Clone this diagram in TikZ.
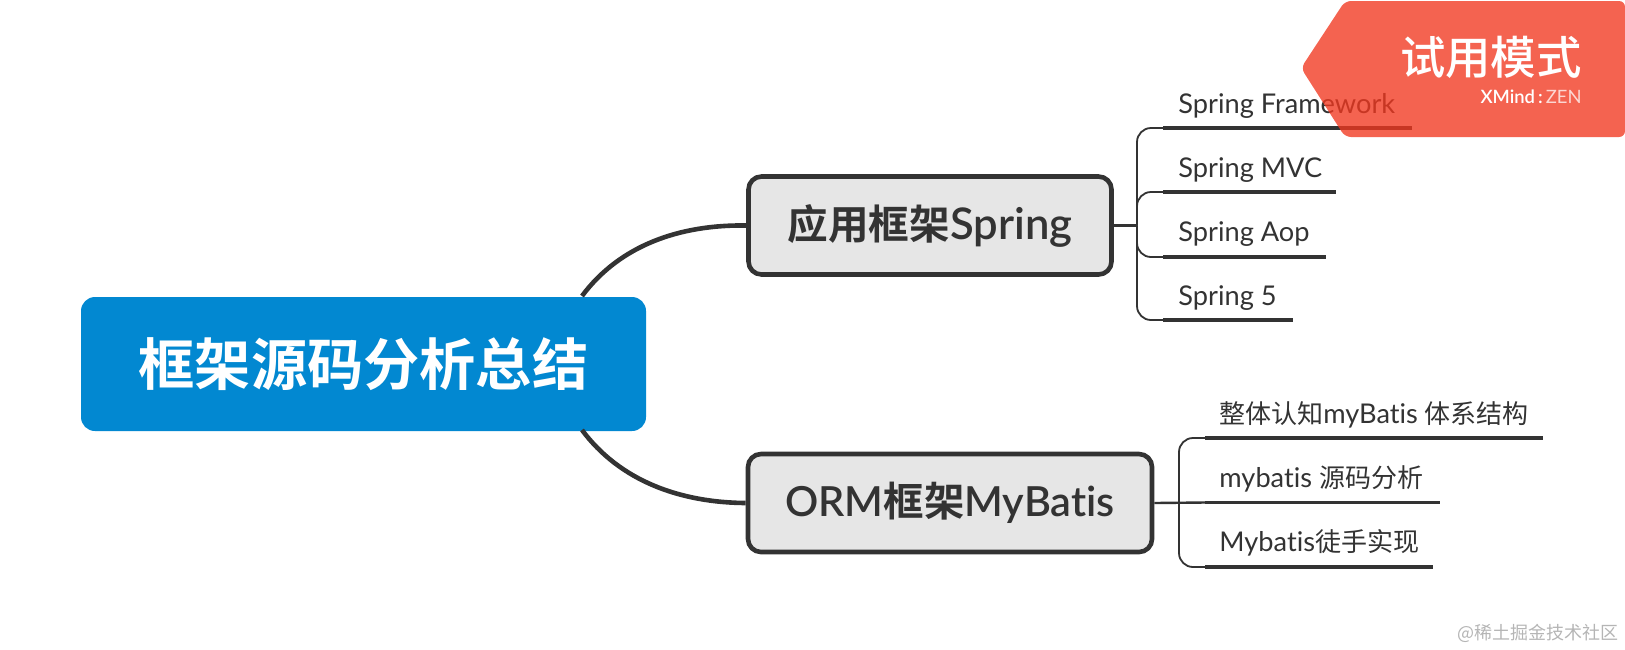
\documentclass[tikz,border=0pt]{standalone}
\usepackage{fontspec}
\setmainfont[Ligatures=NoCommon]{Lato}
\newfontfamily\cjk{Noto Sans CJK SC}
\newfontfamily\cjkm{Noto Sans CJK SC Medium}
\newfontfamily\cjkb{Noto Sans CJK SC Bold}
\newfontfamily\latob[Ligatures=NoCommon]{Lato Semibold}
\definecolor{ink}{HTML}{333333}
\definecolor{rootblue}{HTML}{0288D1}
\definecolor{boxgray}{HTML}{E6E6E6}
\definecolor{banner}{RGB}{241,55,31}
\definecolor{mark}{HTML}{B5B5B5}
\newcommand{\cjkleaf}[1]{{\cjk\fontsize{13}{16}\selectfont #1}}
\tikzset{
  x=0.5pt,y=-0.5pt,
  rootbox/.style={fill=rootblue,rounded corners=7pt,text=white,minimum width=282.5pt,minimum height=67pt,inner sep=0pt},
  topicbox/.style={draw=ink,line width=2.3pt,fill=boxgray,rounded corners=6.5pt,text=ink,minimum height=49pt,inner sep=0pt},
  leaf/.style={anchor=base west,text=ink,inner sep=0pt,font=\fontsize{13.6}{16}\selectfont},
  rootedge/.style={draw=ink,line width=2.3pt},
  bracket/.style={draw=ink,line width=0.9pt,rounded corners=7pt},
  stem/.style={draw=ink,line width=1.2pt},
  underl/.style={draw=ink,line width=1.8pt}
}
\begin{document}
\begin{tikzpicture}
\useasboundingbox (0,0) rectangle (1625,649);
% root and topics
\node[rootbox] (root) at (363.5,364) {\cjkb\fontsize{28.1}{32}\selectfont 框架源码分析总结};
\node[topicbox,minimum width=181.5pt] (spring) at (930,225.5) {{\cjkb\fontsize{20.3}{24}\selectfont 应用框架}{\latob\fontsize{21.8}{24}\selectfont Spring}};
\node[topicbox,minimum width=202pt] (orm) at (950,503) {\latob\fontsize{20.7}{24}\selectfont ORM{\cjkb\fontsize{20.2}{24}\selectfont 框架}MyBatis};
\coordinate (rt) at (582,296);
\coordinate (rb) at (582,430);
\draw[rootedge] (rt) .. controls (620,245) and (680,224.5) .. (spring.west);
\draw[rootedge] (rb) .. controls (620,481) and (680,502.5) .. (orm.west);
% Spring leaves
\node[leaf] (s1) at (1178,113) {Spring Framework};
\node[leaf] (s2) at (1178,177) {Spring MVC};
\node[leaf] (s3) at (1178,241) {Spring Aop};
\node[leaf] (s4) at (1178,305) {Spring 5};
\coordinate (sj) at (1137,225.5);
\coordinate (s1a) at (1163,128); \coordinate (s1b) at (1412,128);
\coordinate (s2a) at (1163,192); \coordinate (s2b) at (1336,192);
\coordinate (s3a) at (1163,257); \coordinate (s3b) at (1326,257);
\coordinate (s4a) at (1163,320); \coordinate (s4b) at (1293,320);
\draw[stem] (spring.east) -- (sj);
\draw[bracket] (sj) |- (s1a);
\draw[bracket] (sj) |- (s2a);
\draw[bracket] (sj) |- (s3a);
\draw[bracket] (sj) |- (s4a);
\draw[underl] (s1a) -- (s1b);
\draw[underl] (s2a) -- (s2b);
\draw[underl] (s3a) -- (s3b);
\draw[underl] (s4a) -- (s4b);
% ORM leaves
\node[leaf] (m1) at (1219,423) {\cjkleaf{整体认知}myBatis \cjkleaf{体系结构}};
\node[leaf] (m2) at (1219,487) {mybatis \cjkleaf{源码分析}};
\node[leaf] (m3) at (1219,551) {Mybatis\cjkleaf{徒手实现}};
\coordinate (mj) at (1179,502.5);
\coordinate (m1a) at (1205,438); \coordinate (m1b) at (1543,438);
\coordinate (m2a) at (1205,502.5); \coordinate (m2b) at (1440,502.5);
\coordinate (m3a) at (1205,567); \coordinate (m3b) at (1433,567);
\draw[stem] (orm.east) -- (m2a);
\draw[bracket] (mj) |- (m1a);
\draw[bracket] (mj) |- (m3a);
\draw[underl] (m1a) -- (m1b);
\draw[underl] (m2a) -- (m2b);
\draw[underl] (m3a) -- (m3b);
% trial banner
\fill[banner,opacity=0.78,rounded corners=3pt] (1625,1) -- (1345,1) -- (1301,68) -- (1345,137) -- (1625,137) -- cycle;
\node[anchor=base east,inner sep=0pt,text=white] (trial) at (1582,74) {\cjkm\fontsize{22.7}{26}\selectfont 试用模式};
\node[anchor=base east,inner sep=0pt,text=white] (brand) at (1582,103) {\fontsize{9.2}{12}\selectfont\latob XMind\,:\,{\fontspec{Lato}\color{white!80!banner}ZEN}};
% watermark
\node[anchor=base east,inner sep=0pt,text=mark] (wm) at (1619,639) {\cjk\fontsize{9}{11}\selectfont @稀土掘金技术社区};
\end{tikzpicture}
\end{document}
